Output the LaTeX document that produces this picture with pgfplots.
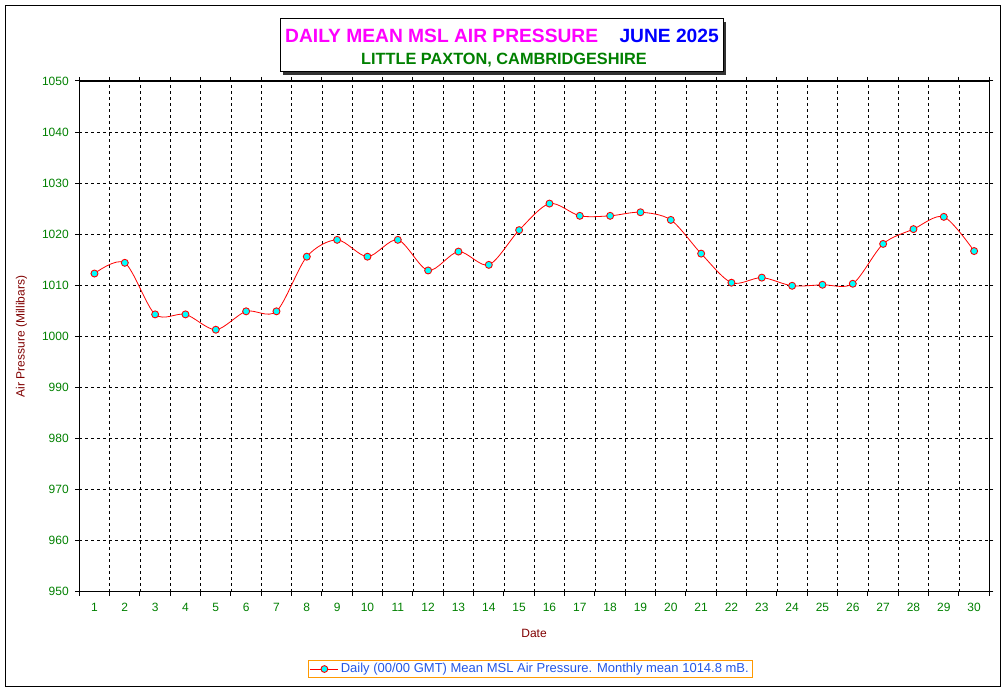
\documentclass[border=0pt]{standalone}
\usepackage{pgfplots}
\pgfplotsset{compat=1.18}
\usepackage{pgfplotstable}
\usepackage{fontspec}
\setmainfont{Liberation Sans}

\definecolor{tickgreen}{HTML}{008000}
\definecolor{labred}{HTML}{800000}
\definecolor{legblue}{HTML}{2457E6}
\definecolor{legorange}{HTML}{FF9900}
\definecolor{titlemag}{HTML}{FF00FF}
\definecolor{titleblue}{HTML}{0000FF}
\definecolor{markcyan}{HTML}{00FFFF}
\definecolor{linered}{HTML}{FF0000}

% day, pressure (mb)
\pgfplotstableread{
day p
1 1012.3
2 1014.4
3 1004.3
4 1004.3
5 1001.3
6 1004.9
7 1004.9
8 1015.6
9 1018.9
10 1015.6
11 1018.9
12 1012.9
13 1016.6
14 1014.0
15 1020.8
16 1026.0
17 1023.6
18 1023.6
19 1024.3
20 1022.8
21 1016.2
22 1010.5
23 1011.5
24 1009.9
25 1010.1
26 1010.3
27 1018.1
28 1021.0
29 1023.4
30 1016.7
}\pressure

\begin{document}
\begin{tikzpicture}[x=1pt,y=1pt]
\path[use as bounding box] (0,0) rectangle (1007,691);
% outer frame
\draw[line width=1pt] (5.5,685.5) rectangle (1000.5,5);

\begin{axis}[
  at={(79.3pt,99.3pt)}, anchor=south west,
  scale only axis, width=910pt, height=510.7pt,
  xmin=0.5, xmax=30.5, ymin=950, ymax=1050,
  xtick={0.5,1.5,...,30.5}, xticklabels={},
  extra x ticks={1,...,30},
  extra x tick style={major tick length=0pt, grid=none},
  ytick={950,960,...,1050},
  tick align=outside, major tick length=4pt,
  tick style={black, line width=1pt},
  axis line style={line width=1.2pt},
  grid=major,
  major grid style={black, line width=0.9pt, dash pattern=on 3pt off 3pt},
  /pgf/number format/assume math mode=true,
  /pgf/number format/set thousands separator={},
  ticklabel style={font=\fontsize{12}{14}\selectfont, text=tickgreen},
  yticklabel style={xshift=-3pt},
  xticklabel style={yshift=-8pt},
  xlabel={Date},
  xlabel style={font=\fontsize{12}{14}\selectfont, text=labred, at={(0.4997,-0.082)}, anchor=center},
  ylabel={Air Pressure (Millibars)},
  ylabel style={font=\fontsize{12}{14}\selectfont, text=labred, at={(-0.0634,0.5)}, anchor=center},
  legend style={at={(0.4957,-0.1514)}, anchor=center, draw=legorange, line width=1pt,
    font=\fontsize{13}{15}\selectfont, text=legblue, inner sep=1.5pt,
    legend cell align=left},
  legend image code/.code={
    \draw[draw=linered, line width=0.9pt] (0pt,0pt) -- (28pt,0pt);
    \draw[draw=linered, fill=markcyan, line width=0.9pt] (14pt,0pt) circle (3.4pt);
  },
]
\addplot[draw=linered, line width=0.8pt, smooth, tension=0.5,
  mark=*, mark size=3.5pt, mark options={fill=markcyan, draw=linered, line width=0.9pt}]
  table[x=day, y=p] {\pressure};
\addlegendentry{Daily (00/00 GMT) Mean MSL Air Pressure. Monthly mean 1014.8 mB.}
\end{axis}

% title box with shadow
\fill[black!80] (283,691-75) rectangle (726,691-22);
\filldraw[fill=white, draw=black, line width=1pt] (280.5,691-72) rectangle (723,691-19);
\node[anchor=base west, inner sep=0pt, font=\bfseries\fontsize{19.2}{23}\selectfont, text=titlemag]
  at (285,691-42.3) {DAILY MEAN MSL AIR PRESSURE};
\node[anchor=base east, inner sep=0pt, font=\bfseries\fontsize{19.2}{23}\selectfont, text=titleblue]
  at (719,691-42.3) {JUNE 2025};
\node[anchor=base, inner sep=0pt, font=\bfseries\fontsize{16.3}{19}\selectfont, text=tickgreen]
  at (504,691-64.3) {LITTLE PAXTON, CAMBRIDGESHIRE};
\end{tikzpicture}
\end{document}
